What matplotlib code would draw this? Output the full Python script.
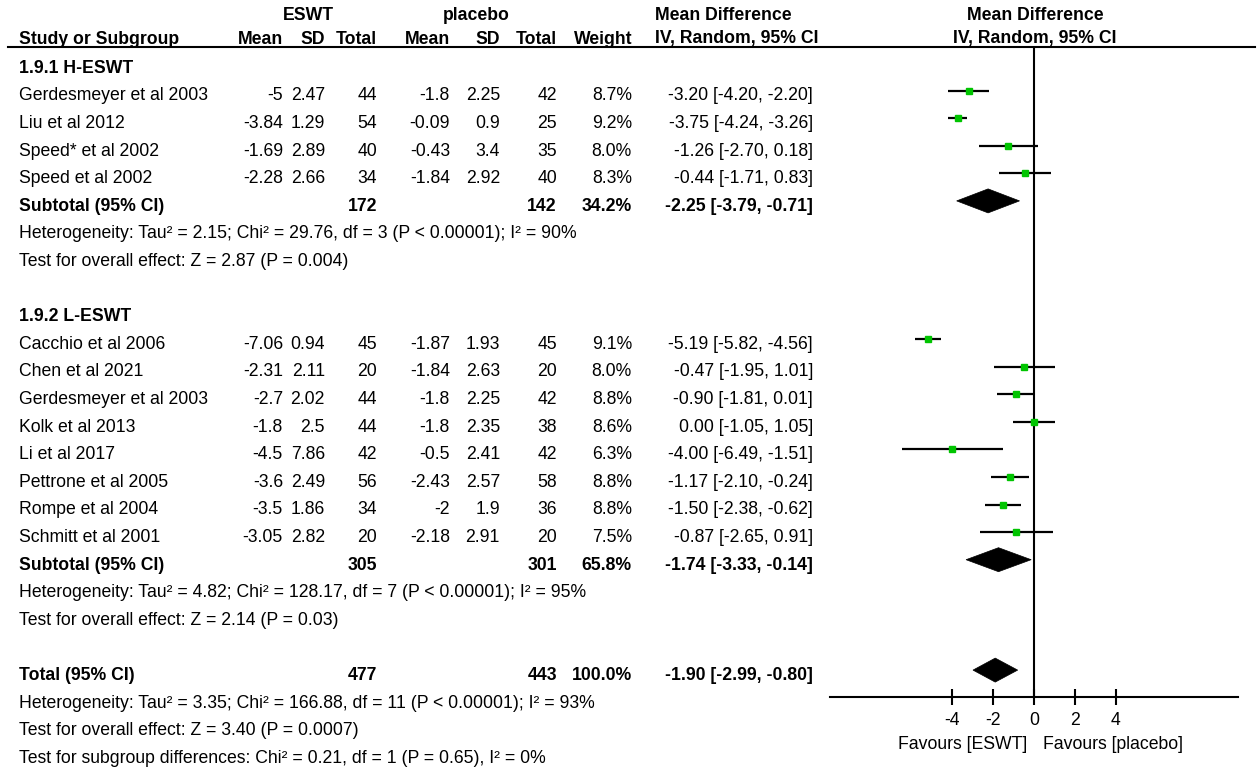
import matplotlib
matplotlib.use("Agg")
import matplotlib.pyplot as plt
from matplotlib.patches import Polygon

plt.rcParams['font.family'] = ['Liberation Sans', 'DejaVu Sans']
plt.rcParams['axes.unicode_minus'] = False

FS = 12.7
GREEN = '#00c400'

# ---- data ----
h_names = ["Gerdesmeyer et al 2003", "Liu et al 2012", "Speed* et al 2002", "Speed et al 2002"]
h_eswt_mean = [-5, -3.84, -1.69, -2.28]
h_eswt_sd = [2.47, 1.29, 2.89, 2.66]
h_eswt_n = [44, 54, 40, 34]
h_plac_mean = [-1.8, -0.09, -0.43, -1.84]
h_plac_sd = [2.25, 0.9, 3.4, 2.92]
h_plac_n = [42, 25, 35, 40]
h_weight = [8.7, 9.2, 8.0, 8.3]
h_md = [-3.20, -3.75, -1.26, -0.44]
h_lo = [-4.20, -4.24, -2.70, -1.71]
h_hi = [-2.20, -3.26, 0.18, 0.83]

l_names = ["Cacchio et al 2006", "Chen et al 2021", "Gerdesmeyer et al 2003", "Kolk et al 2013",
           "Li et al 2017", "Pettrone et al 2005", "Rompe et al 2004", "Schmitt et al 2001"]
l_eswt_mean = [-7.06, -2.31, -2.7, -1.8, -4.5, -3.6, -3.5, -3.05]
l_eswt_sd = [0.94, 2.11, 2.02, 2.5, 7.86, 2.49, 1.86, 2.82]
l_eswt_n = [45, 20, 44, 44, 42, 56, 34, 20]
l_plac_mean = [-1.87, -1.84, -1.8, -1.8, -0.5, -2.43, -2, -2.18]
l_plac_sd = [1.93, 2.63, 2.25, 2.35, 2.41, 2.57, 1.9, 2.91]
l_plac_n = [45, 20, 42, 38, 42, 58, 36, 20]
l_weight = [9.1, 8.0, 8.8, 8.6, 6.3, 8.8, 8.8, 7.5]
l_md = [-5.19, -0.47, -0.90, 0.00, -4.00, -1.17, -1.50, -0.87]
l_lo = [-5.82, -1.95, -1.81, -1.05, -6.49, -2.10, -2.38, -2.65]
l_hi = [-4.56, 1.01, 0.01, 1.05, -1.51, -0.24, -0.62, 0.91]

sub_labels = ["1.9.1 H-ESWT", "1.9.2 L-ESWT"]
sub_eswt_n = [172, 305]
sub_plac_n = [142, 301]
sub_weight = [34.2, 65.8]
sub_md = [-2.25, -1.74]
sub_lo = [-3.79, -3.33]
sub_hi = [-0.71, -0.14]
sub_het = ["Heterogeneity: Tau² = 2.15; Chi² = 29.76, df = 3 (P < 0.00001); I² = 90%",
           "Heterogeneity: Tau² = 4.82; Chi² = 128.17, df = 7 (P < 0.00001); I² = 95%"]
sub_test = ["Test for overall effect: Z = 2.87 (P = 0.004)",
            "Test for overall effect: Z = 2.14 (P = 0.03)"]

total_eswt_n = 477
total_plac_n = 443
total_weight = 100.0
total_md, total_lo, total_hi = -1.90, -2.99, -0.80
total_notes = ["Heterogeneity: Tau² = 3.35; Chi² = 166.88, df = 11 (P < 0.00001); I² = 93%",
               "Test for overall effect: Z = 3.40 (P = 0.0007)",
               "Test for subgroup differences: Chi² = 0.21, df = 1 (P = 0.65), I² = 0%"]

ticks = [-4, -2, 0, 2, 4]
favours = ["Favours [ESWT]", "Favours [placebo]"]

# ---- layout (pixel units) ----
W, H = 1259, 770
ROW0, DY = 94.5, 27.6
X_NAME = 19
X_M1, X_SD1, X_N1 = 283, 325, 377
X_M2, X_SD2, X_N2 = 450, 500, 557
X_W, X_CI, X_MDH = 632, 813, 655
AX_TOP, AX_BOT, AX_L, AX_R = 47, 697, 830, 1238

fig = plt.figure(figsize=(W / 100, H / 100), dpi=100)
ax = fig.add_axes([0, 0, 1, 1])
ax.set_xlim(0, W)
ax.set_ylim(H, 0)
ax.axis('off')

fax = fig.add_axes([AX_L / W, 1 - AX_BOT / H, (AX_R - AX_L) / W, (AX_BOT - AX_TOP) / H])
fax.set_xlim(-10, 10)
fax.set_ylim(AX_BOT, AX_TOP)
fax.patch.set_visible(False)
for s in ['top', 'left', 'right']:
    fax.spines[s].set_visible(False)
fax.spines['bottom'].set_linewidth(1.5)
fax.set_yticks([])
fax.set_xticks(ticks)
fax.set_xticklabels([str(t) for t in ticks], fontsize=FS)
fax.tick_params(axis='x', direction='inout', length=12, width=1.5, pad=5)
fax.axvline(0, color='black', lw=1.5)


def row_y(i):
    return ROW0 + DY * i


def put(x, y, s, ha='right', bold=False):
    ax.text(x, y + 6, s, ha=ha, va='baseline', fontsize=FS,
            fontweight='bold' if bold else 'normal')


def fmt(v):
    return f"{v:g}"


def ci_text(md, lo, hi):
    return f"{md:.2f} [{lo:.2f}, {hi:.2f}]"


def diamond(md, lo, hi, y):
    fax.add_patch(Polygon([(lo, y), (md, y - 12), (hi, y), (md, y + 12)],
                          closed=True, fc='black', ec='black', lw=0.5, clip_on=False))


# headers
hdr1, hdr2 = 19.5, 43.5
ax.text(308, hdr1, "ESWT", ha='center', va='baseline', fontsize=FS, fontweight='bold')
ax.text(476, hdr1, "placebo", ha='center', va='baseline', fontsize=FS, fontweight='bold')
ax.text(X_MDH, hdr1, "Mean Difference", ha='left', va='baseline', fontsize=FS, fontweight='bold')
ax.text(1035, hdr1, "Mean Difference", ha='center', va='baseline', fontsize=FS, fontweight='bold')
for x, s, ha in [(X_NAME, "Study or Subgroup", 'left'), (X_M1, "Mean", 'right'),
                 (X_SD1, "SD", 'right'), (X_N1, "Total", 'right'), (X_M2, "Mean", 'right'),
                 (X_SD2, "SD", 'right'), (X_N2, "Total", 'right'), (X_W, "Weight", 'right'),
                 (X_MDH, "IV, Random, 95% CI", 'left')]:
    ax.text(x, hdr2, s, ha=ha, va='baseline', fontsize=FS, fontweight='bold')
ax.text(1035, hdr2, "IV, Random, 95% CI", ha='center', va='baseline', fontsize=FS, fontweight='bold')
ax.plot([8, 1255], [AX_TOP, AX_TOP], color='black', lw=1.5)

groups = [
    (h_names, h_eswt_mean, h_eswt_sd, h_eswt_n, h_plac_mean, h_plac_sd, h_plac_n, h_weight, h_md, h_lo, h_hi),
    (l_names, l_eswt_mean, l_eswt_sd, l_eswt_n, l_plac_mean, l_plac_sd, l_plac_n, l_weight, l_md, l_lo, l_hi),
]

i = -1
for g, (names, m1, sd1, n1, m2, sd2, n2, wt, md, lo, hi) in enumerate(groups):
    put(X_NAME, row_y(i), sub_labels[g], ha='left', bold=True)
    i += 1
    for k in range(len(names)):
        y = row_y(i)
        put(X_NAME, y, names[k], ha='left')
        put(X_M1, y, fmt(m1[k]))
        put(X_SD1, y, fmt(sd1[k]))
        put(X_N1, y, str(n1[k]))
        put(X_M2, y, fmt(m2[k]))
        put(X_SD2, y, fmt(sd2[k]))
        put(X_N2, y, str(n2[k]))
        put(X_W, y, f"{wt[k]:.1f}%")
        put(X_CI, y, ci_text(md[k], lo[k], hi[k]))
        fy = y - 4
        fax.plot([lo[k], hi[k]], [fy, fy], color='black', lw=1.6, solid_capstyle='butt', clip_on=False)
        side = 2.1 * wt[k] ** 0.5 * 0.72
        fax.plot([md[k]], [fy], marker='s', ms=side, color=GREEN, mec=GREEN, ls='none', clip_on=False)
        i += 1
    y = row_y(i)
    put(X_NAME, y, "Subtotal (95% CI)", ha='left', bold=True)
    put(X_N1, y, str(sub_eswt_n[g]), bold=True)
    put(X_N2, y, str(sub_plac_n[g]), bold=True)
    put(X_W, y, f"{sub_weight[g]:.1f}%", bold=True)
    put(X_CI, y, ci_text(sub_md[g], sub_lo[g], sub_hi[g]), bold=True)
    diamond(sub_md[g], sub_lo[g], sub_hi[g], y - 4)
    i += 1
    put(X_NAME, row_y(i), sub_het[g], ha='left')
    i += 1
    put(X_NAME, row_y(i), sub_test[g], ha='left')
    i += 2   # one blank row, then the next heading

y = row_y(i)
put(X_NAME, y, "Total (95% CI)", ha='left', bold=True)
put(X_N1, y, str(total_eswt_n), bold=True)
put(X_N2, y, str(total_plac_n), bold=True)
put(X_W, y, f"{total_weight:.1f}%", bold=True)
put(X_CI, y, ci_text(total_md, total_lo, total_hi), bold=True)
diamond(total_md, total_lo, total_hi, y - 4)
for note in total_notes:
    i += 1
    put(X_NAME, row_y(i), note, ha='left')

ax.text(1027, 749, favours[0], ha='right', va='baseline', fontsize=FS)
ax.text(1043, 749, favours[1], ha='left', va='baseline', fontsize=FS)

fig.savefig("out.png", dpi=100)
